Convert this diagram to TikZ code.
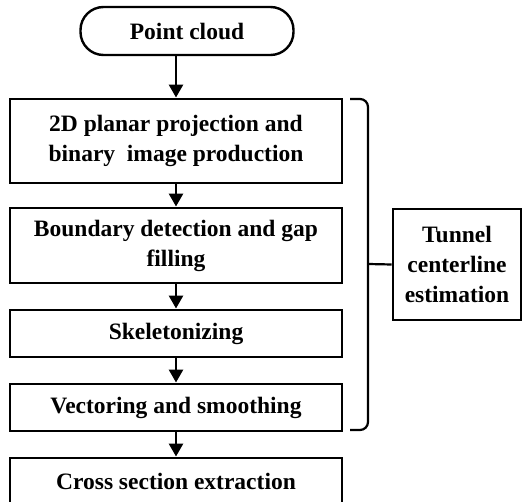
\documentclass[tikz,border=0pt]{standalone}
\usepackage{fontspec}
\setmainfont{Liberation Serif}
\usetikzlibrary{arrows.meta}
\begin{document}
\begin{tikzpicture}[x=1pt,y=-1pt,
  txt/.style={font=\fontsize{23.5}{30}\selectfont\bfseries, align=center, inner sep=0pt},
  stepbox/.style={txt, draw, line width=2.9pt, minimum width=332pt},
  term/.style={txt, draw, line width=2.4pt, rounded corners=23pt, minimum width=213pt, minimum height=48pt},
  arr/.style={line width=2.6pt, -{Triangle[length=13pt,width=14pt]}},
  brace/.style={line width=2.2pt}]
\useasboundingbox (0,0) rectangle (522,502);
\clip (0,0) rectangle (522,502);
\node[term] (pc) at (187,31) {Point cloud};
\node[stepbox, minimum height=84pt] (b1) at (176,141) {2D planar projection and\\binary\ \ image production};
\node[stepbox, minimum height=75pt] (b2) at (176,245.5) {Boundary detection and gap\\filling};
\node[stepbox, minimum height=47pt] (b3) at (176,333.5) {Skeletonizing};
\node[stepbox, minimum height=47pt] (b4) at (176,407.5) {Vectoring and smoothing};
\node[stepbox, minimum height=47pt] (b5) at (176,481.5) {Cross section extraction};
\node[txt, draw, line width=2.6pt, minimum width=128pt, minimum height=111pt] (tc) at (457,264.5) {Tunnel\\centerline\\estimation};
\draw[arr] (pc.south -| b1.north) -- (b1.north);
\draw[arr] (b1.south) -- (b2.north);
\draw[arr] (b2.south) -- (b3.north);
\draw[arr] (b3.south) -- (b4.north);
\draw[arr] (b4.south) -- (b5.north);
\coordinate (bt) at (350,99);
\coordinate (bb) at (350,430);
\coordinate (bm) at (368,264);
\draw[brace] (bt) -- (360,99) to[out=0,in=90] (368,107) -- (368,422) to[out=-90,in=0] (360,430) -- (bb);
\draw[brace] (bm) -- (tc.west);
\end{tikzpicture}
\end{document}
